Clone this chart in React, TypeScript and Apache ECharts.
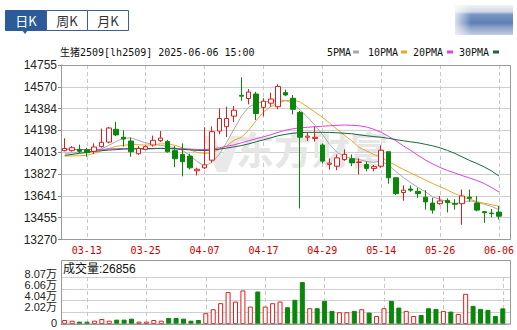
import React, { useEffect, useRef } from 'react';
import * as echarts from 'echarts';

const dates = [
  '03-10','03-11','03-12','03-13','03-14','03-17','03-18','03-19','03-20','03-21',
  '03-24','03-25','03-26','03-27','03-28','03-31','04-01','04-02','04-03','04-07',
  '04-08','04-09','04-10','04-11','04-14','04-15','04-16','04-17','04-18','04-21',
  '04-22','04-23','04-24','04-25','04-28','04-29','04-30','05-06','05-07','05-08',
  '05-09','05-12','05-13','05-14','05-15','05-16','05-19','05-20','05-21','05-22',
  '05-23','05-26','05-27','05-28','05-29','05-30','06-03','06-04','06-05','06-06'
];
const labelDates = ['03-13','03-25','04-07','04-17','04-29','05-14','05-26','06-06'];

const opens = [
  14026,14026,14037,14034,14020,14060,14099,14208,14140,14108,
  14000,14037,14074,14111,14103,14026,13994,13980,13855,13880,
  13945,14193,14230,14320,14497,14470,14508,14395,14430,14400,
  14520,14472,14352,14140,14130,14074,13910,13894,13950,13957,
  13925,13908,13875,13894,14017,13795,13670,13700,13680,13630,
  13580,13575,13603,13577,13575,13630,13580,13507,13495,13503
];
const closes = [
  14045,14051,14020,14009,14057,14097,14219,14160,14125,14017,
  14045,14060,14114,14133,14017,13957,13932,13880,13868,13905,
  14188,14300,14300,14370,14490,14525,14342,14447,14465,14572,
  14500,14378,14140,14150,14140,13937,13920,13965,13995,13922,
  13930,13875,13890,14030,13795,13660,13690,13690,13660,13590,
  13520,13598,13583,13570,13640,13620,13520,13498,13490,13468
];
const lows = [
  14020,14018,14003,13975,13997,14051,14088,14151,14060,13974,
  13990,14030,14060,14100,14009,13885,13808,13866,13815,13870,
  13923,14165,14142,14270,14450,14420,14287,14318,14400,14378,
  14490,14335,13535,14107,14103,13918,13865,13860,13940,13894,
  13825,13850,13850,13880,13745,13650,13600,13675,13625,13525,
  13490,13565,13500,13525,13395,13590,13510,13412,13460,13440
];
const highs = [
  14131,14065,14077,14051,14088,14214,14228,14271,14200,14137,
  14065,14070,14154,14193,14118,14065,14088,14000,13881,14225,
  14232,14385,14400,14407,14650,14550,14527,14472,14520,14592,
  14545,14500,14364,14185,14230,14088,13960,13994,14037,13994,
  13960,13935,13905,14071,14017,13800,13730,13730,13710,13690,
  13625,13640,13620,13613,13695,13695,13640,13513,13530,13555
];

const ma5 = [
  14003,14007,14011,14015,14024,14041,14071,14105,14131,14135,
  14114,14093,14080,14071,14063,14050,14028,13986,13934,13896,
  13926,13994,14097,14208,14319,14396,14431,14440,14448,14457,
  14452,14431,14371,14311,14242,14165,14080,14011,13977,13960,
  13951,13934,13926,13939,13900,13849,13797,13754,13712,13677,
  13632,13612,13590,13575,13585,13600,13588,13570,13552,13522
];
const ma10 = [
  13980,13981,13983,13986,14003,14024,14045,14063,14071,14080,
  14077,14073,14077,14084,14084,14071,14050,14033,14011,14003,
  14007,14037,14067,14114,14140,14200,14281,14354,14401,14431,
  14452,14457,14440,14397,14354,14311,14260,14208,14157,14110,
  14054,14024,13994,13968,13934,13900,13866,13836,13806,13776,
  13746,13720,13690,13660,13635,13613,13592,13579,13566,13553
];
const ma20 = [
  14040,14038,14036,14035,14035,14036,14040,14043,14045,14043,
  14040,14040,14042,14046,14046,14044,14042,14040,14036,14035,
  14041,14050,14063,14075,14093,14110,14127,14144,14161,14182,
  14200,14212,14221,14225,14230,14234,14238,14242,14244,14242,
  14238,14228,14208,14182,14148,14110,14067,14028,13986,13947,
  13913,13883,13857,13836,13814,13793,13772,13746,13712,13673
];
const ma30 = [
  13986,13994,14003,14011,14020,14026,14031,14035,14039,14041,
  14043,14043,14045,14045,14043,14041,14037,14033,14028,14027,
  14030,14039,14048,14058,14069,14084,14101,14118,14135,14153,
  14165,14174,14180,14182,14182,14182,14181,14178,14174,14170,
  14161,14153,14146,14140,14131,14120,14110,14101,14093,14080,
  14067,14050,14028,14003,13973,13943,13917,13887,13853,13810
];

const volumes = [
  6900,5700,4000,4000,5700,8600,5700,7500,7500,9200,
  4000,4000,6900,5700,10400,10400,9200,5700,6900,18500,
  25400,35800,54800,38500,57600,29900,55800,29900,35700,38600,
  28800,41500,72000,27100,27100,39700,22500,20200,20200,22500,
  25400,19600,13800,27100,39700,28200,22500,13800,15600,27100,
  25900,22500,21300,17300,51800,31100,25900,24200,13800,26856
];
const volumeUp = [
  1,1,0,0,1,1,1,0,0,0,
  1,1,1,1,0,0,0,0,0,1,
  1,1,1,1,1,1,0,1,1,1,
  0,0,0,1,0,0,0,1,1,0,
  1,0,1,1,0,0,1,1,0,0,
  0,1,0,1,1,0,0,0,0,0
];

const priceTicks = ['13270','13455','13641','13827','14013','14198','14384','14570','14755'];
const volumeTicks = ['0','2.02万','4.04万','6.06万','8.07万'];
const volumeTickY = [322.5, 307, 296, 285, 274];
const PRICE_MIN = 13270;
const PRICE_MAX = 14755;
const VOL_MAX = 80700;

const UP = '#e01b1b';
const DOWN = '#0a870a';
const MONO = '"DejaVu Sans Mono", "Noto Sans CJK SC", monospace';
const SANS = '"Liberation Sans", "Noto Sans CJK SC", sans-serif';

export default function App() {
  const ref = useRef<HTMLDivElement>(null);
  useEffect(() => {
    const chart = echarts.init(ref.current as HTMLDivElement, null, { renderer: 'svg' });
    const labelFilter = (_i: number, v: string) => labelDates.includes(v);
    const candleData = opens.map((o, i) => [o, closes[i], lows[i], highs[i]]);
    const volData = volumes.map((v, i) => ({
      value: v,
      itemStyle: volumeUp[i]
        ? { color: '#ffffff', borderColor: UP, borderWidth: 1 }
        : { color: DOWN, borderColor: DOWN, borderWidth: 1 },
    }));
    const maSeries = (name: string, data: number[], color: string) => ({
      name, type: 'line', xAxisIndex: 1, yAxisIndex: 1, data,
      symbol: 'none', smooth: false, z: 3,
      lineStyle: { width: 1, color }, itemStyle: { color },
    });
    const legendItems = [
      { t: '5PMA', x: 327, rx: 353, c: '#a8a8a8' },
      { t: '10PMA', x: 368, rx: 401, c: '#e8a82a' },
      { t: '20PMA', x: 413, rx: 447, c: '#e23fe2' },
      { t: '30PMA', x: 459, rx: 493, c: '#16683a' },
    ];
    const option: any = {
      animation: false,
      backgroundColor: '#ffffff',
      grid: [
        { left: 61, top: 65, width: 449.7, height: 174.5 },
        { left: 61, top: 65, width: 445.5, height: 174.5 },
        { left: 61, top: 277, width: 449.7, height: 47 },
        { left: 61, top: 277, width: 445.5, height: 47 },
      ],
      xAxis: [
        { type: 'value', gridIndex: 0, min: 0, max: 1, show: false },
        {
          type: 'category', gridIndex: 1, data: dates, boundaryGap: true,
          axisLine: { show: true, lineStyle: { color: '#999' } },
          axisTick: { show: false },
          axisLabel: {
            interval: labelFilter, margin: 6, color: '#d00000',
            fontFamily: MONO, fontSize: 10,
          },
          splitLine: {
            show: true, interval: labelFilter, alignWithLabel: true,
            lineStyle: { color: '#c8c8c8', type: [4, 3], width: 1 },
          },
        },
        { type: 'value', gridIndex: 2, min: 0, max: 1, show: false },
        {
          type: 'category', gridIndex: 3, data: dates, boundaryGap: true,
          axisLine: { show: true, lineStyle: { color: '#999' } },
          axisTick: { show: false },
          axisLabel: { show: false },
          splitLine: {
            show: true, interval: labelFilter, alignWithLabel: true,
            lineStyle: { color: '#c8c8c8', type: [4, 3], width: 1 },
          },
        },
      ],
      yAxis: [
        {
          type: 'value', gridIndex: 0, min: PRICE_MIN, max: PRICE_MAX,
          interval: (PRICE_MAX - PRICE_MIN) / 8,
          axisLine: { show: true, lineStyle: { color: '#888' } },
          axisTick: { show: true, length: 3, lineStyle: { color: '#888' } },
          axisLabel: {
            margin: 4, color: '#222', fontFamily: SANS, fontSize: 12,
            showMinLabel: true, showMaxLabel: true,
            formatter: (_v: number, i: number) => priceTicks[i],
          },
          splitLine: { show: true, lineStyle: { color: '#cfcfcf', width: 1 } },
        },
        { type: 'value', gridIndex: 1, min: PRICE_MIN, max: PRICE_MAX, show: false },
        {
          type: 'value', gridIndex: 2, min: 0, max: VOL_MAX, interval: VOL_MAX / 4,
          axisLine: { show: true, lineStyle: { color: '#888' } },
          axisTick: { show: false },
          axisLabel: { show: false },
          splitLine: { show: true, lineStyle: { color: '#cfcfcf', width: 1 } },
        },
        { type: 'value', gridIndex: 3, min: 0, max: VOL_MAX, show: false },
      ],
      series: [
        {
          name: 'K', type: 'candlestick', xAxisIndex: 1, yAxisIndex: 1,
          data: candleData, barWidth: 5, z: 4,
          itemStyle: {
            color: '#ffffff', color0: DOWN,
            borderColor: UP, borderColor0: DOWN, borderWidth: 1,
          },
        },
        maSeries('5PMA', ma5, '#a8a8a8'),
        maSeries('10PMA', ma10, '#e8a82a'),
        maSeries('20PMA', ma20, '#e23fe2'),
        maSeries('30PMA', ma30, '#16683a'),
        {
          name: '成交量', type: 'bar', xAxisIndex: 3, yAxisIndex: 3,
          data: volData, barWidth: 5,
        },
      ],
      graphic: [
        // watermark logo + text
        { type: 'polygon', z: 1, silent: true,
          shape: { points: [[203, 136], [214, 136], [222, 156], [231, 136], [241, 136], [227, 172], [217, 172]] },
          style: { fill: '#e9e9e9' } },
        {
          type: 'text', left: 236, top: 128, z: 1, silent: true,
          style: {
            text: '东方财富', fill: '#e6e6e6',
            font: 'bold 38px "Noto Sans CJK SC"',
          },
        },
        // volume axis tick labels
        ...volumeTicks.map((t, i) => ({
          type: 'text', x: 57, y: volumeTickY[i], z: 10,
          style: { text: t, fill: '#222222', font: '11px ' + SANS, align: 'right', verticalAlign: 'middle' },
        })),
        // tabs
        { type: 'rect', shape: { x: 5.5, y: 10.5, width: 41, height: 20 }, z: 10,
          style: { fill: '#2c5b9c', stroke: '#2c5b9c' } },
        { type: 'rect', shape: { x: 46.5, y: 10.5, width: 41, height: 20 }, z: 10,
          style: { fill: '#ffffff', stroke: '#3e5e8e' } },
        { type: 'rect', shape: { x: 87.5, y: 10.5, width: 41, height: 20 }, z: 10,
          style: { fill: '#ffffff', stroke: '#3e5e8e' } },
        { type: 'polygon', shape: { points: [[22, 30], [28, 30], [25, 34]] }, z: 10,
          style: { fill: '#2c5b9c' } },
        { type: 'text', x: 26, y: 20.5, z: 11,
          style: { text: '日K', fill: '#ffffff', font: '13px "Noto Sans CJK SC"', align: 'center', verticalAlign: 'middle' } },
        { type: 'text', x: 67, y: 20.5, z: 11,
          style: { text: '周K', fill: '#333333', font: '13px "Noto Sans CJK SC"', align: 'center', verticalAlign: 'middle' } },
        { type: 'text', x: 108, y: 20.5, z: 11,
          style: { text: '月K', fill: '#333333', font: '13px "Noto Sans CJK SC"', align: 'center', verticalAlign: 'middle' } },
        // blurred logo top right
        { type: 'rect', shape: { x: 455, y: 5, width: 58, height: 30 }, z: 10,
          style: { fill: { type: 'linear', x: 0, y: 0, x2: 0, y2: 1, colorStops: [
            { offset: 0, color: '#eef1f6' }, { offset: 0.22, color: '#d0d9e8' },
            { offset: 0.32, color: '#7a95c2' }, { offset: 0.6, color: '#5e7fb4' },
            { offset: 0.75, color: '#8ca2c9' }, { offset: 1, color: '#c2cde0' } ] } } },
        { type: 'rect', shape: { x: 455, y: 5, width: 16, height: 30 }, z: 11,
          style: { fill: { type: 'linear', x: 0, y: 0, x2: 1, y2: 0, colorStops: [
            { offset: 0, color: 'rgba(255,255,255,0.75)' }, { offset: 1, color: 'rgba(255,255,255,0)' } ] } } },
        // title
        { type: 'text', x: 60, y: 52, z: 10,
          style: { text: '生猪2509[lh2509] 2025-06-06 15:00', fill: '#111111',
            font: '10px ' + MONO, verticalAlign: 'middle' } },
        ...legendItems.flatMap((it) => [
          { type: 'text', x: it.x, y: 52, z: 10,
            style: { text: it.t, fill: '#111111', font: '10px ' + MONO, verticalAlign: 'middle' } },
          { type: 'rect', shape: { x: it.rx, y: 50.5, width: 6, height: 3 }, z: 10,
            style: { fill: it.c } },
        ]),
        // plot boxes
        { type: 'rect', shape: { x: 61.5, y: 65.5, width: 449, height: 174 }, z: 10, silent: true,
          style: { fill: 'none', stroke: '#999999', lineWidth: 1 } },
        { type: 'rect', shape: { x: 61.5, y: 260.5, width: 449, height: 63.5 }, z: 10, silent: true,
          style: { fill: 'none', stroke: '#999999', lineWidth: 1 } },
        { type: 'text', x: 63, y: 269, z: 10,
          style: { text: '成交量:26856', fill: '#111111',
            font: '12px ' + SANS, verticalAlign: 'middle' } },
      ],
    };
    chart.setOption(option);
    return () => chart.dispose();
  }, []);
  return <div ref={ref} style={{ position: 'fixed', left: 0, top: 0, width: 517, height: 330 }} />;
}
